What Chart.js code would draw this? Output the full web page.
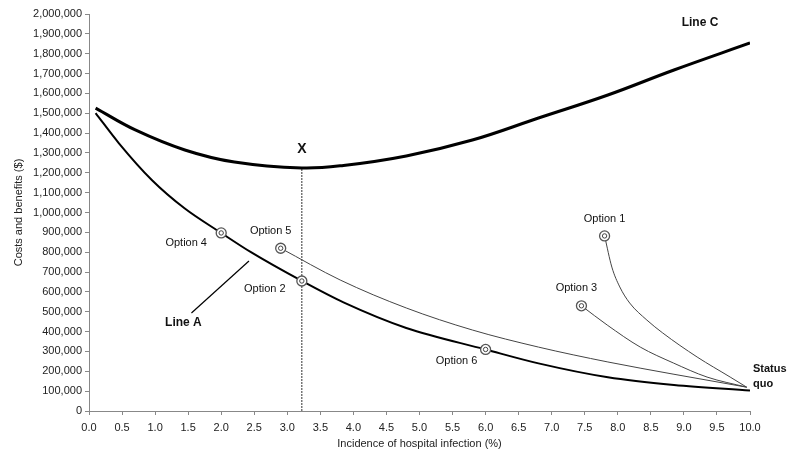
<!DOCTYPE html>
<html>
<head>
<meta charset="utf-8">
<script src="https://cdn.jsdelivr.net/npm/chart.js@4.4.1/dist/chart.umd.min.js"></script>
<style>
  html, body { margin: 0; padding: 0; background: #fff; }
</style>
</head>
<body>
<canvas id="chart" width="800" height="459"></canvas>
<script>
// Line C (total costs)
const lineCX = [0.1, 0.7, 1.45, 2.2, 3.22, 3.85, 4.8, 5.8, 6.8, 7.85, 8.85, 10]
const lineCY = [1526000, 1416000, 1315000, 1254000, 1224000, 1237000, 1285000, 1365000, 1476000, 1592000, 1718000, 1854000]

// Line A
const lineAX = [0.1, 0.45, 0.95, 1.45, 2.0, 2.45, 3.22, 3.85, 4.8, 6.0, 6.8, 7.85, 8.85, 10]
const lineAY = [1501000, 1350000, 1164000, 1020000, 897000, 800000, 655000, 547000, 418000, 310000, 240000, 170000, 131000, 103000]

// thin curves from the options back to the status quo
const opt1X = [7.8, 7.91, 8.03, 8.18, 8.44, 8.68, 9.2, 9.7, 9.95]
const opt1Y = [882000, 725000, 625000, 544000, 458000, 393000, 272000, 171000, 120000]
const opt3X = [7.45, 7.84, 8.34, 8.84, 9.35, 9.95]
const opt3Y = [530000, 433000, 322000, 242000, 171000, 120000]
const opt5X = [2.9, 3.8, 4.8, 5.8, 6.8, 7.85, 8.85, 9.95]
const opt5Y = [820000, 660000, 519000, 408000, 322000, 247000, 185000, 120000]

// option markers
const optionNames = ["Option 1", "Option 2", "Option 3", "Option 4", "Option 5", "Option 6"]
const optionX = [7.8, 3.22, 7.45, 2.0, 2.9, 6.0]
const optionY = [882000, 655000, 530000, 897000, 820000, 310000]

// point X (minimum of line C)
const xStar = 3.22
const xStarY = 1224000

// pointer from the "Line A" label to the curve
const pointerX = [1.55, 2.42]
const pointerY = [494000, 756000]

const xTitle = "Incidence of hospital infection (%)"
const yTitle = "Costs and benefits ($)"

const font = "'Liberation Sans', Arial, sans-serif"
const pts = (xs, ys) => xs.map((v, i) => ({ x: v, y: ys[i] }))

const annotations = {
  id: "annotations",
  afterDatasetsDraw(chart) {
    const { ctx, scales: { x, y } } = chart
    const offsets = [[0, -17], [-37, 8], [-5, -18], [-35, 10], [-10, -17], [-29, 12]]
    ctx.save()
    ctx.fillStyle = "#111"
    ctx.textAlign = "center"
    ctx.textBaseline = "middle"
    ctx.font = `11px ${font}`
    optionNames.forEach((name, i) => {
      ctx.fillText(name, x.getPixelForValue(optionX[i]) + offsets[i][0], y.getPixelForValue(optionY[i]) + offsets[i][1])
    })

    ctx.font = `bold 14px ${font}`
    ctx.fillText("X", x.getPixelForValue(xStar), y.getPixelForValue(xStarY) - 19)

    ctx.font = `bold 12px ${font}`
    ctx.fillText("Line C", x.getPixelForValue(lineCX[lineCX.length - 1]) - 50, y.getPixelForValue(lineCY[lineCY.length - 1]) - 20)
    ctx.fillText("Line A", x.getPixelForValue(pointerX[0]) - 8, y.getPixelForValue(pointerY[0]) + 10)

    ctx.font = `bold 11px ${font}`
    ctx.textAlign = "left"
    const sx = x.getPixelForValue(10) + 3
    const sy = y.getPixelForValue(lineAY[lineAY.length - 1])
    ctx.fillText("Status", sx, sy - 22)
    ctx.fillText("quo", sx, sy - 7)
    ctx.restore()
  }
}

const thin = { borderColor: "#444", borderWidth: 1, pointRadius: 0, showLine: true, fill: false, cubicInterpolationMode: "monotone", order: 3 }

new Chart(document.getElementById("chart"), {
  type: "scatter",
  data: {
    datasets: [
      { data: pts(optionX, optionY), pointRadius: 2.2, pointBackgroundColor: "#fff", pointBorderColor: "#444", pointBorderWidth: 1, order: 0 },
      { data: pts(optionX, optionY), pointRadius: 5, pointBackgroundColor: "#fff", pointBorderColor: "#555", pointBorderWidth: 1.3, order: 1 },
      { data: pts(lineCX, lineCY), borderColor: "#000", borderWidth: 3, pointRadius: 0, showLine: true, tension: 0.4, order: 2 },
      { data: pts(lineAX, lineAY), borderColor: "#000", borderWidth: 2, pointRadius: 0, showLine: true, cubicInterpolationMode: "monotone", order: 2 },
      { ...thin, data: pts(opt1X, opt1Y) },
      { ...thin, data: pts(opt3X, opt3Y) },
      { ...thin, data: pts(opt5X, opt5Y) },
      { data: [{ x: xStar, y: 0 }, { x: xStar, y: xStarY }], borderColor: "#333", borderWidth: 1, borderDash: [2, 1], pointRadius: 0, showLine: true, order: 4 },
      { data: pts(pointerX, pointerY), borderColor: "#000", borderWidth: 1.2, pointRadius: 0, showLine: true, order: 4 }
    ]
  },
  options: {
    responsive: false,
    animation: false,
    layout: { padding: { top: 14, right: 50, left: 8, bottom: 0 } },
    plugins: { legend: { display: false }, tooltip: { enabled: false } },
    scales: {
      x: {
        type: "linear",
        min: 0,
        max: 10,
        afterFit: axis => { axis.height = 48 },
        border: { color: "#888", width: 1 },
        grid: { drawOnChartArea: false, drawTicks: true, tickLength: 4, color: "#888" },
        ticks: {
          stepSize: 0.5,
          autoSkip: false,
          maxRotation: 0,
          padding: 6,
          color: "#222",
          font: { family: font, size: 11 },
          callback: v => Number(v).toFixed(1)
        },
        title: { display: true, text: xTitle, color: "#222", font: { family: font, size: 11 }, padding: { top: 0, bottom: 8 } }
      },
      y: {
        min: 0,
        max: 2000000,
        afterFit: axis => { axis.width = 81 },
        border: { color: "#888", width: 1 },
        grid: { drawOnChartArea: false, drawTicks: true, tickLength: 4, color: "#888" },
        ticks: {
          stepSize: 100000,
          autoSkip: false,
          padding: 3,
          color: "#222",
          font: { family: font, size: 11 },
          callback: v => Number(v).toLocaleString("en-US")
        },
        title: { display: true, text: yTitle, color: "#222", font: { family: font, size: 11 }, padding: { bottom: 0 } }
      }
    }
  },
  plugins: [annotations]
})
</script>
</body>
</html>
